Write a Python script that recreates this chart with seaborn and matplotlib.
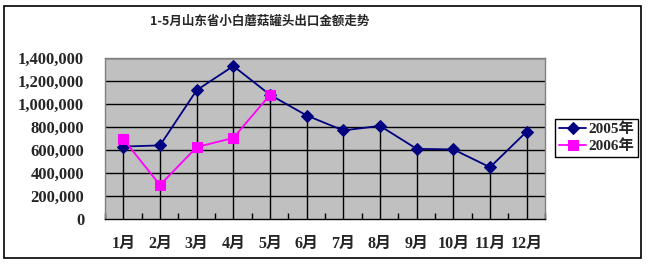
import matplotlib
matplotlib.use("Agg")
import matplotlib.pyplot as plt
import seaborn as sns
import pandas as pd
import numpy as np
from matplotlib.patches import Rectangle
from matplotlib.ticker import FuncFormatter, FixedLocator

months = ["1月", "2月", "3月", "4月", "5月", "6月", "7月", "8月", "9月", "10月", "11月", "12月"]
values_2005 = [630000, 640000, 1120000, 1330000, 1080000, 900000, 770000, 810000, 610000, 605000, 450000, 760000]
months_2006 = ["1月", "2月", "3月", "4月", "5月"]
values_2006 = [695000, 295000, 625000, 705000, 1080000]
series_names = ["2005年", "2006年"]
title = "1-5月山东省小白蘑菇罐头出口金额走势"

sns.set_theme(style="white")
plt.rcParams['font.family'] = ['Liberation Serif', 'Noto Sans CJK SC', 'DejaVu Sans']

fig = plt.figure(figsize=(6.5, 2.71), dpi=100)
ax = fig.add_axes([105/650, 1-219/271, 440/650, 161/271])
ax.set_facecolor("#C0C0C0")

df05 = pd.DataFrame({"month": months, "value": values_2005})
df06 = pd.DataFrame({"month": months_2006, "value": values_2006})

# drop lines from axis to highest point of each category
xs = np.arange(len(months))
tops = list(values_2005)
for i, v in enumerate(values_2006):
    tops[i] = max(tops[i], v)
ax.vlines(xs, 0, tops, colors="black", linewidth=1.0, zorder=1)

for y in range(200000, 1400001, 200000):
    ax.axhline(y, color="black", linewidth=1.0, zorder=0.5)

sns.lineplot(data=df05, x="month", y="value", ax=ax, color="#000080", marker="D",
             markersize=6, markeredgecolor="#000080", linewidth=1.3, label=series_names[0],
             sort=False, zorder=3)
sns.lineplot(data=df06, x="month", y="value", ax=ax, color="#FF00FF", marker="s",
             markersize=7, markeredgecolor="#FF00FF", linewidth=1.3, label=series_names[1],
             sort=False, zorder=4)

ax.set_xlim(-0.5, 11.5)
ax.set_ylim(0, 1400000)
ax.set_xlabel("")
ax.set_ylabel("")
ax.set_yticks(range(0, 1400001, 200000))
ax.yaxis.set_major_formatter(FuncFormatter(lambda v, p: f"{int(v):,}"))
ax.tick_params(axis="y", length=0, pad=15, labelsize=12)
for lab in ax.get_yticklabels():
    lab.set_fontweight("bold")
ax.set_xticks(xs)
ax.set_xticklabels(months, fontsize=11.5, fontweight="bold")
ax.tick_params(axis="x", which="major", length=0, pad=12)
ax.xaxis.set_minor_locator(FixedLocator(np.arange(-0.5, 12, 1)))
ax.tick_params(axis="x", which="minor", direction="in", length=4, width=1, color="black", bottom=True)

for s in ["top", "right", "left"]:
    ax.spines[s].set_color("#808080")
    ax.spines[s].set_linewidth(1)
ax.spines["bottom"].set_color("black")
ax.spines["bottom"].set_linewidth(1)

leg = ax.legend(loc="center left", bbox_to_anchor=(555/650, 1-138/271),
                bbox_transform=fig.transFigure, frameon=True, fancybox=False,
                edgecolor="black", framealpha=1, fontsize=11, handlelength=1.8,
                handletextpad=0.15, borderpad=0.25, labelspacing=0.2, borderaxespad=0)
leg.get_frame().set_linewidth(1)
for t in leg.get_texts():
    t.set_fontweight("bold")

fig.text(260/650, 1-21/271, title, ha="center", va="center", fontsize=9, fontweight="bold",
         family=['Noto Sans CJK SC', 'DejaVu Sans'])

fig.patches.append(Rectangle((4/650, 1-258/271), 637/650, 252/271, transform=fig.transFigure,
                             fill=False, edgecolor="black", linewidth=1.2))

fig.savefig("out.png", dpi=100, facecolor="white")
